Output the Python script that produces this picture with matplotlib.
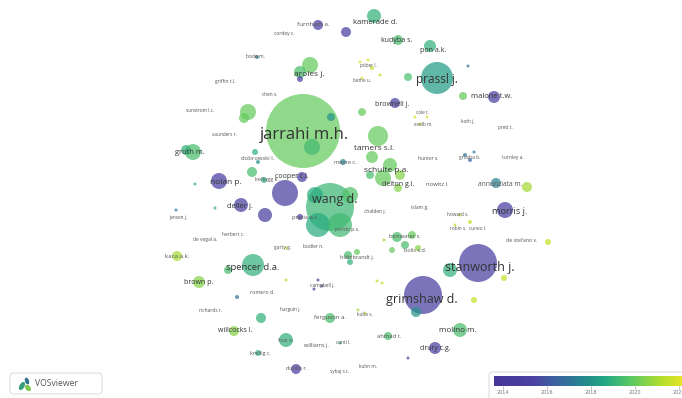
import numpy as np
import matplotlib.pyplot as plt
from matplotlib.colors import LinearSegmentedColormap, Normalize
from matplotlib.patches import FancyBboxPatch, Ellipse
from matplotlib.cm import ScalarMappable

# author nodes: map coordinates, radius, average publication year
node_x = [318, 346, 374, 398, 430, 437, 408, 468, 494, 463, 395, 362, 310, 300, 300, 257, 248, 244,
          303, 312, 331,
          193, 186, 255, 252, 258, 219, 195, 302, 285, 241, 265, 300, 215, 176, 264,
          330, 318, 340, 350, 315,
          378, 372, 390, 383, 400, 398, 370, 343, 465, 470, 474, 496, 527,
          505, 460, 470, 455, 548, 397, 405, 412, 418, 392, 348, 350, 357, 384,
          478, 450, 504, 423, 416, 474, 460, 388, 435, 408, 358, 365, 382, 377,
          177, 253, 228, 199, 237, 286, 286, 261, 330, 234, 286, 258, 296, 318, 322, 314, 340,
          360, 368, 372, 362, 380, 415, 427, 420]
node_y = [25, 32, 16, 40, 46, 78, 77, 66, 97, 96, 103, 112, 65, 72, 79, 57, 112, 118,
          131, 147, 117,
          152, 150, 152, 172, 162, 181, 184, 177, 193, 205, 215, 217, 208, 210, 180,
          207, 225, 225, 195, 195,
          136, 157, 165, 178, 175, 188, 175, 162, 155, 160, 152, 183, 187,
          210, 215, 222, 225, 242, 237, 245, 235, 248, 250, 255, 262, 252, 240,
          263, 270, 278, 295, 312, 300, 330, 336, 348, 358, 310, 313, 283, 281,
          256, 265, 270, 282, 297, 280, 248, 318, 318, 331, 340, 353, 369, 280, 286, 289, 343,
          62, 60, 68, 78, 75, 117, 117, 124]
node_r = [5, 5, 7, 5, 6, 16, 4, 1.5, 6, 4, 5, 4, 8, 6, 3, 2, 8, 5,
          37, 8, 4,
          8, 5, 3, 5, 2, 8, 1.5, 5, 13, 7, 7, 3, 1.5, 1.5, 3,
          24, 12, 12, 8, 8,
          10, 6, 7, 8, 5, 4, 4, 3, 2, 2, 1.5, 5, 5,
          8, 1.5, 2, 1.5, 3, 5, 4, 4, 3, 3, 4, 3, 3, 1.5,
          19, 7, 3, 19, 5, 3, 7, 4, 6, 1.5, 1.5, 1.5, 1.5, 1.5,
          5, 11, 4, 6, 2, 1.5, 1.5, 5, 5, 5, 7, 3, 5, 1.5, 1.5, 1.5, 1.5,
          1.5, 1.5, 2, 1.5, 1.5, 1.5, 1.5, 1.5]
node_year = [2015, 2015, 2019, 2019.5, 2019, 2018.3, 2019.5, 2017, 2015, 2020, 2015, 2020, 2020, 2019.5, 2015, 2017, 2020, 2020,
             2020, 2019.3, 2018,
             2019.5, 2019, 2019, 2019.5, 2018, 2015, 2019, 2015, 2015, 2015, 2015, 2015, 2019, 2017, 2019,
             2019.2, 2018.8, 2019.3, 2019.6, 2018.8,
             2020, 2020, 2020, 2020, 2020.5, 2020.5, 2019.5, 2017.5, 2017, 2016.5, 2017, 2017.5, 2021,
             2015, 2021.5, 2021.5, 2021.5, 2021.5, 2019.5, 2019.5, 2020, 2020.5, 2020, 2019.5, 2019, 2020, 2021,
             2015, 2019, 2021.5, 2015, 2018, 2021.5, 2019.5, 2019.5, 2015, 2015, 2021, 2021, 2021.5, 2021.5,
             2021, 2019, 2019.5, 2020.5, 2017, 2021.5, 2021.5, 2019, 2019.5, 2020.5, 2019, 2019, 2015, 2015, 2015, 2015, 2019,
             2022, 2022, 2021.5, 2022, 2021.5, 2022, 2022, 2021.5]

# author labels
labels = ['furnham a.', 'cordey c.', 'kamerade d.', 'kudyba s.', 'pon a.k.', 'pöber l.', 'bethe u.',
          'prassl j.', 'malone t.w.', 'brownell j.', 'bode m.', 'aroles j.', 'griffin t.l.', 'chen s.',
          'sunstrom l.c.', 'saunders r.', 'cole t.', 'exelb m.', 'koth j.', 'prett t.', 'jarrahi m.h.',
          'groth m.', 'dobrowski l.', 'tamers s.l.', 'moore c.', 'hunter s.', 'grusha b.', 'turnley a.',
          'schulte p.a.', 'delton g.l.', 'nowitz l.', 'annunziata m.', 'nolan p.', 'kellogg k.',
          'cooper c.l.', 'deller j.', 'jansen j.', 'pratia a.c.', 'wang d.', 'chalden j.', 'islam g.',
          'morris j.', 'howard s.', 'robin s.', 'cuneo l.', 'perido p.s.', 'de stefano v.', 'bimwater s.',
          'bolis s.d.', 'de vegal a.', 'herbert c.', 'garty g.', 'bodler n.', 'hildebrandt j.', 'kaca a.k.',
          'spencer d.a.', 'stanworth j.', 'brown p.', 'campbell j.', 'romero d.', 'grimshaw d.',
          'richards r.', 'harguin j.', 'ferguson a.', 'kuba s.', 'willcocks l.', 'molino m.', 'ahmad t.',
          'fox s.', 'williams j.', 'conti l.', 'drury c.g.', 'krellig c.', 'kuhn m.', 'dunlin r.', 'sybaj s.t.']
label_x = [313, 284, 375, 397, 433, 368, 362, 437, 492, 392, 255, 309, 225, 270, 200, 224, 422, 423, 468, 505, 305,
           190, 258, 374, 345, 428, 470, 513, 386, 398, 437, 500, 226, 267, 292, 240, 178, 305, 335, 375, 420,
           510, 458, 458, 478, 347, 522, 405, 415, 205, 233, 283, 313, 357, 177, 253, 480, 199, 322, 262, 422,
           211, 290, 330, 365, 235, 458, 389, 286, 316, 343, 435, 260, 368, 297, 340]
label_y = [24, 33, 22, 41, 51, 65, 80, 80, 97, 104, 57, 75, 81, 94, 111, 134, 113, 125, 122, 128, 135,
           152, 158, 148, 163, 158, 158, 157, 171, 185, 185, 185, 182, 180, 177, 206, 217, 218, 200, 211, 207,
           211, 215, 228, 228, 229, 241, 237, 250, 240, 235, 247, 246, 258, 257, 267, 267, 282, 286, 292, 300,
           310, 310, 318, 315, 331, 331, 337, 341, 345, 343, 349, 353, 367, 369, 372]
label_size = [4.6, 3.6, 5.5, 5.0, 5.0, 3.4, 3.4, 8.5, 5.5, 5.0, 3.6, 6.0, 3.6, 3.4, 3.4, 3.4, 3.4, 3.4, 3.4, 3.4, 12,
              5.4, 4.2, 6.0, 4.0, 3.6, 3.6, 3.6, 6.0, 5.0, 4.2, 4.8, 6.0, 4.0, 5.0, 5.5, 3.4, 4.2, 9.0, 3.6, 3.6,
              6.7, 3.4, 3.4, 3.4, 3.6, 3.8, 4.2, 4.0, 3.6, 3.6, 3.6, 3.6, 4.0, 4.4, 6.8, 9.0, 5.0, 3.6, 3.8, 9.0,
              3.6, 3.4, 4.4, 3.4, 5.0, 5.8, 4.2, 4.6, 4.0, 3.4, 5.0, 4.0, 3.4, 4.0, 3.4]

year_ticks = [2014, 2016, 2018, 2020, 2022]

cmap = LinearSegmentedColormap.from_list(
    'overlay', [(0.0, '#46359a'), (0.2, '#4a42a2'), (0.32, '#3b64a0'), (0.45, '#25878e'),
                (0.56, '#22a884'), (0.7, '#5ec962'), (0.85, '#b5de2b'), (1.0, '#fde725')])
norm = Normalize(vmin=2013.6, vmax=2022.6)

dpi = 100
fig = plt.figure(figsize=(6.82, 3.98), dpi=dpi)
ax = fig.add_axes([0, 0, 1, 1])
ax.set_xlim(0, 682)
ax.set_ylim(398, 0)
ax.axis('off')

# big nodes go underneath the small ones
order = np.argsort(node_r)[::-1]
xs = np.array(node_x)[order]
ys = np.array(node_y)[order]
rs = np.array(node_r)[order]
yrs = np.array(node_year)[order]
sizes = (2 * rs * 72 / dpi) ** 2
ax.scatter(xs, ys, s=sizes, c=yrs, cmap=cmap, norm=norm, alpha=0.72, linewidths=0, zorder=2)

for txt, lx, ly, fs in zip(labels, label_x, label_y, label_size):
    col = '#333333' if fs >= 5 else '#555555'
    ax.text(lx, ly, txt, fontsize=fs, family='Open Sans', color=col,
            ha='center', va='center', zorder=3)

# logo box, bottom left
ax.add_patch(FancyBboxPatch((10, 373), 92, 21, boxstyle='round,pad=0,rounding_size=4',
                            fc='white', ec='#dddddd', lw=0.8, zorder=4))
ax.add_patch(Ellipse((22, 386), 5, 9, angle=30, fc='#3aa07a', ec='none', zorder=5))
ax.add_patch(Ellipse((27, 381), 4, 7, angle=-20, fc='#2c6f8e', ec='none', zorder=5))
ax.add_patch(Ellipse((28, 388), 5, 7, angle=-40, fc='#7cc84a', ec='none', zorder=5))
ax.text(35, 384, 'VOSviewer', fontsize=6.2, family='Open Sans', color='#555555',
        ha='left', va='center', zorder=5)

# colour legend, bottom right
ax.add_patch(FancyBboxPatch((489, 372), 200, 30, boxstyle='round,pad=0,rounding_size=4',
                            fc='white', ec='#dddddd', lw=0.8, zorder=4))
cax = fig.add_axes([494 / 682, 1 - 386 / 398, (692 - 494) / 682, 10 / 398])
sm = ScalarMappable(norm=norm, cmap=cmap)
cb = fig.colorbar(sm, cax=cax, orientation='horizontal')
cb.set_ticks(year_ticks)
cb.outline.set_visible(False)
cax.tick_params(labelsize=3.5, length=2, width=0.5, color='#aaaaaa', labelcolor='#777777', pad=1)

fig.savefig('out.png', dpi=dpi)
